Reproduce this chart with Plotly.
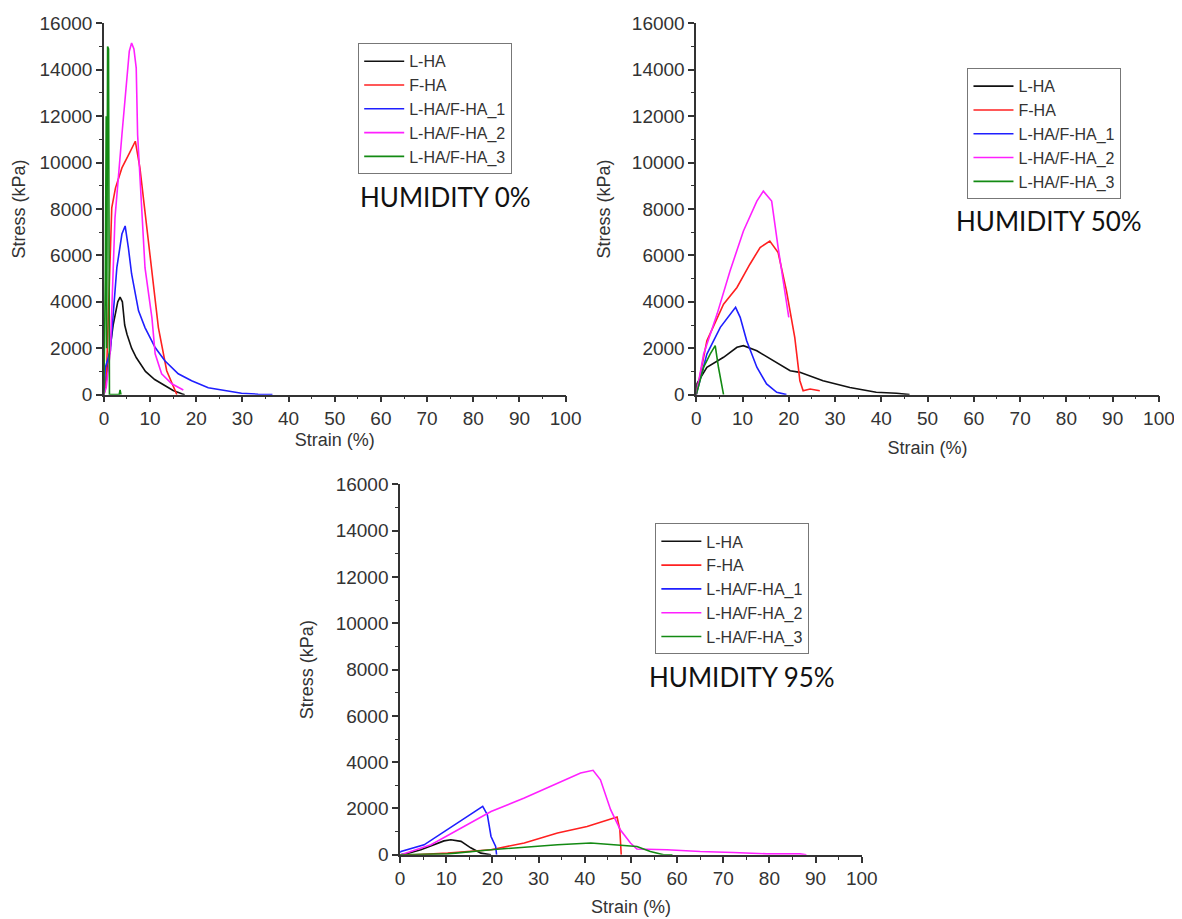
import plotly.graph_objects as go

W, H = 1182, 919

names = ["L-HA", "F-HA", "L-HA/F-HA_1", "L-HA/F-HA_2", "L-HA/F-HA_3"]
colors = ["#111111", "#ff2020", "#1f1fff", "#ff20ff", "#138a13"]

# ---- Humidity 0% ----
h0_lha_x = [0, 0.5, 1, 2, 3, 3.5, 4, 4.5, 5, 6, 7, 9, 11, 13, 15, 17, 17.5]
h0_lha_y = [0, 600, 1500, 3000, 4000, 4200, 4000, 3000, 2600, 2000, 1600, 1000, 650, 400, 180, 30, 0]
h0_fha_x = [0, 0.3, 0.6, 1.1, 1.7, 2.5, 3.9, 5.5, 6.8, 7.8, 9.0, 10.4, 11.8, 13.6, 15.8]
h0_fha_y = [0, 300, 1160, 4470, 8050, 8900, 9770, 10400, 10920, 9770, 7700, 5470, 2890, 1030, 0]
h0_m1_x = [0, 0.3, 1.4, 2.8, 3.9, 4.6, 5.3, 6.0, 7.5, 8.9, 11.1, 13.2, 16.1, 19, 22.6, 26.2, 29.8, 33.4, 36.5]
h0_m1_y = [0, 1160, 1890, 5470, 6920, 7270, 6330, 5200, 3610, 2890, 2030, 1460, 900, 600, 300, 170, 60, 20, 0]
h0_m2_x = [0, 0.5, 1.4, 2.4, 3.9, 5.0, 5.5, 6.0, 6.5, 7.0, 7.3, 8.9, 10.4, 11.1, 12.5, 14.7, 17.2]
h0_m2_y = [0, 300, 1890, 7620, 11200, 13800, 14800, 15150, 14900, 14070, 11200, 5470, 3310, 1760, 900, 470, 200]
h0_m3_x = [0, 0.3, 0.5, 0.6, 0.8, 1.0, 1.2, 3.3, 3.5, 3.7]
h0_m3_y = [0, 5000, 12000, 2000, 15000, 14900, 0, 0, 200, 0]

# ---- Humidity 50% ----
h50_lha_x = [0, 0.1, 2.3, 5.9, 8.8, 10.2, 13.1, 16.7, 20.3, 22.4, 27.4, 33.2, 38.9, 43.3, 46.1]
h50_lha_y = [0, 460, 1180, 1610, 2040, 2110, 1890, 1460, 1030, 960, 600, 310, 100, 60, 0]
h50_fha_x = [0, 2.3, 5.9, 8.8, 11.6, 13.8, 15.9, 17.7, 19.5, 21.3, 22.4, 23.1, 24.6, 26.7]
h50_fha_y = [0, 2320, 3900, 4620, 5620, 6340, 6620, 6120, 4470, 2460, 600, 170, 240, 170]
h50_m1_x = [0, 2.3, 5.2, 7.3, 8.5, 9.5, 10.9, 13.1, 15.2, 17.4, 19.5]
h50_m1_y = [0, 1750, 2900, 3470, 3760, 3330, 2320, 1180, 460, 100, 0]
h50_m2_x = [0, 1.6, 4.5, 7.3, 10.2, 13.1, 14.5, 16.3, 17.7, 19.2, 20.0]
h50_m2_y = [0, 1750, 3470, 5330, 7050, 8340, 8770, 8340, 6340, 4470, 3330]
h50_m3_x = [0, 1.6, 3.0, 4.1, 4.8, 5.9]
h50_m3_y = [0, 1180, 1750, 2110, 1180, 0]

# ---- Humidity 95% ----
h95_lha_x = [0, 2, 4.5, 7.4, 9.5, 11, 13.2, 15.3, 17.5, 19.7]
h95_lha_y = [0, 80, 220, 430, 600, 650, 580, 300, 70, 0]
h95_fha_x = [0, 3.1, 10.3, 19.7, 26.9, 34.1, 40.5, 47.0, 47.6, 47.9]
h95_fha_y = [0, 0, 70, 220, 510, 940, 1220, 1630, 1080, 0]
h95_m1_x = [0, 0.2, 5.2, 10.3, 14.6, 17.9, 18.9, 19.7, 20.7, 20.9]
h95_m1_y = [100, 140, 430, 1080, 1660, 2090, 1730, 790, 360, 0]
h95_m2_x = [0, 0.2, 6.7, 13.9, 19.7, 26.9, 34.1, 39.1, 41.8, 43.4, 45.6, 47.7, 49.9, 51.3,
            57.8, 65, 72.2, 79.4, 86.6, 88]
h95_m2_y = [0, 0, 430, 1220, 1870, 2450, 3100, 3530, 3650, 3240, 1950, 1080, 510, 250,
            220, 140, 100, 40, 40, 0]
h95_m3_x = [0, 10.3, 19.7, 26.9, 34.1, 41.3, 47, 51.3, 54.2, 57.1, 59]
h95_m3_y = [0, 40, 220, 330, 430, 510, 430, 360, 140, 0, 0]

x_ticks = [0, 10, 20, 30, 40, 50, 60, 70, 80, 90, 100]
y_ticks = [0, 2000, 4000, 6000, 8000, 10000, 12000, 14000, 16000]
y_ticktext = [str(v) for v in y_ticks]

panels = [
    dict(series=[(h0_lha_x, h0_lha_y), (h0_fha_x, h0_fha_y), (h0_m1_x, h0_m1_y),
                 (h0_m2_x, h0_m2_y), (h0_m3_x, h0_m3_y)],
         px=(102, 565), py=(394, 22), label="HUMIDITY 0%", lab=(445, 196),
         leg=(357, 42), xs=5, ys=9),
    dict(series=[(h50_lha_x, h50_lha_y), (h50_fha_x, h50_fha_y), (h50_m1_x, h50_m1_y),
                 (h50_m2_x, h50_m2_y), (h50_m3_x, h50_m3_y)],
         px=(696, 1160), py=(394, 22), label="HUMIDITY 50%", lab=(1050, 220),
         leg=(968, 67), xs=13, ys=17),
    dict(series=[(h95_lha_x, h95_lha_y), (h95_fha_x, h95_fha_y), (h95_m1_x, h95_m1_y),
                 (h95_m2_x, h95_m2_y), (h95_m3_x, h95_m3_y)],
         px=(399, 862), py=(855, 484), label="HUMIDITY 95%", lab=(742, 677),
         leg=(655, 523), xs=12, ys=17),
]

# mapping from target screenshot pixels to figure pixels (page offset/scale observed)
SX, OX = 0.985, 11
SY, OY = 0.979, 17


def fx(px):
    return (px / SX - OX) / W


def fy(py):
    return 1 - (py / SY - OY) / H


fig = go.Figure()
font_main = "Liberation Sans, Arial, sans-serif"
layout = dict(width=W, height=H, margin=dict(l=0, r=0, t=0, b=0),
              paper_bgcolor="white", plot_bgcolor="white", showlegend=True)
annotations = []

for i, p in enumerate(panels):
    k = "" if i == 0 else str(i + 1)
    legname = "legend" + k
    for (xs, ys), nm, c in zip(p["series"], names, colors):
        fig.add_trace(go.Scatter(x=xs, y=ys, mode="lines", name=nm,
                                 line=dict(color=c, width=1.6),
                                 xaxis="x" + k, yaxis="y" + k, legend=legname))
    x0, x1 = p["px"]
    yb, yt = p["py"]
    common = dict(showline=True, linecolor="#333", linewidth=1.5, ticks="outside",
                  ticklen=6, tickwidth=1.5, tickcolor="#333", showgrid=False,
                  zeroline=False, tickfont=dict(family=font_main, size=19, color="#333"),
                  minor=dict(ticks="outside", ticklen=3, tickwidth=1.2, tickcolor="#333"))
    layout["xaxis" + k] = dict(common, domain=[fx(x0), fx(x1)], range=[0, 100],
                               tickvals=x_ticks, anchor="y" + k, fixedrange=True,
                               minor=dict(common["minor"], dtick=5, tick0=0),
                               title=dict(text="Strain (%)", standoff=p["xs"],
                                          font=dict(family=font_main, size=18, color="#333")))
    layout["yaxis" + k] = dict(common, domain=[fy(yb), fy(yt)], range=[0, 16000],
                               tickvals=y_ticks, ticktext=y_ticktext, anchor="x" + k,
                               fixedrange=True,
                               minor=dict(common["minor"], dtick=1000, tick0=0),
                               title=dict(text="Stress (kPa)", standoff=p["ys"],
                                          font=dict(family=font_main, size=18, color="#333")))
    lx, ly = p["leg"]
    layout[legname] = dict(x=fx(lx), y=fy(ly), xanchor="left", yanchor="top",
                           bordercolor="#777", borderwidth=1, bgcolor="white",
                           font=dict(family=font_main, size=16, color="#333"),
                           tracegroupgap=0, itemwidth=40)
    ax, ay = p["lab"]
    annotations.append(dict(text=p["label"], x=fx(ax), y=fy(ay), xref="paper",
                            yref="paper", showarrow=False, xanchor="center", yanchor="middle",
                            font=dict(family="Lato, Open Sans, sans-serif", size=26, color="#111")))

layout["annotations"] = annotations
fig.update_layout(**layout)
fig.write_html("out.html")
